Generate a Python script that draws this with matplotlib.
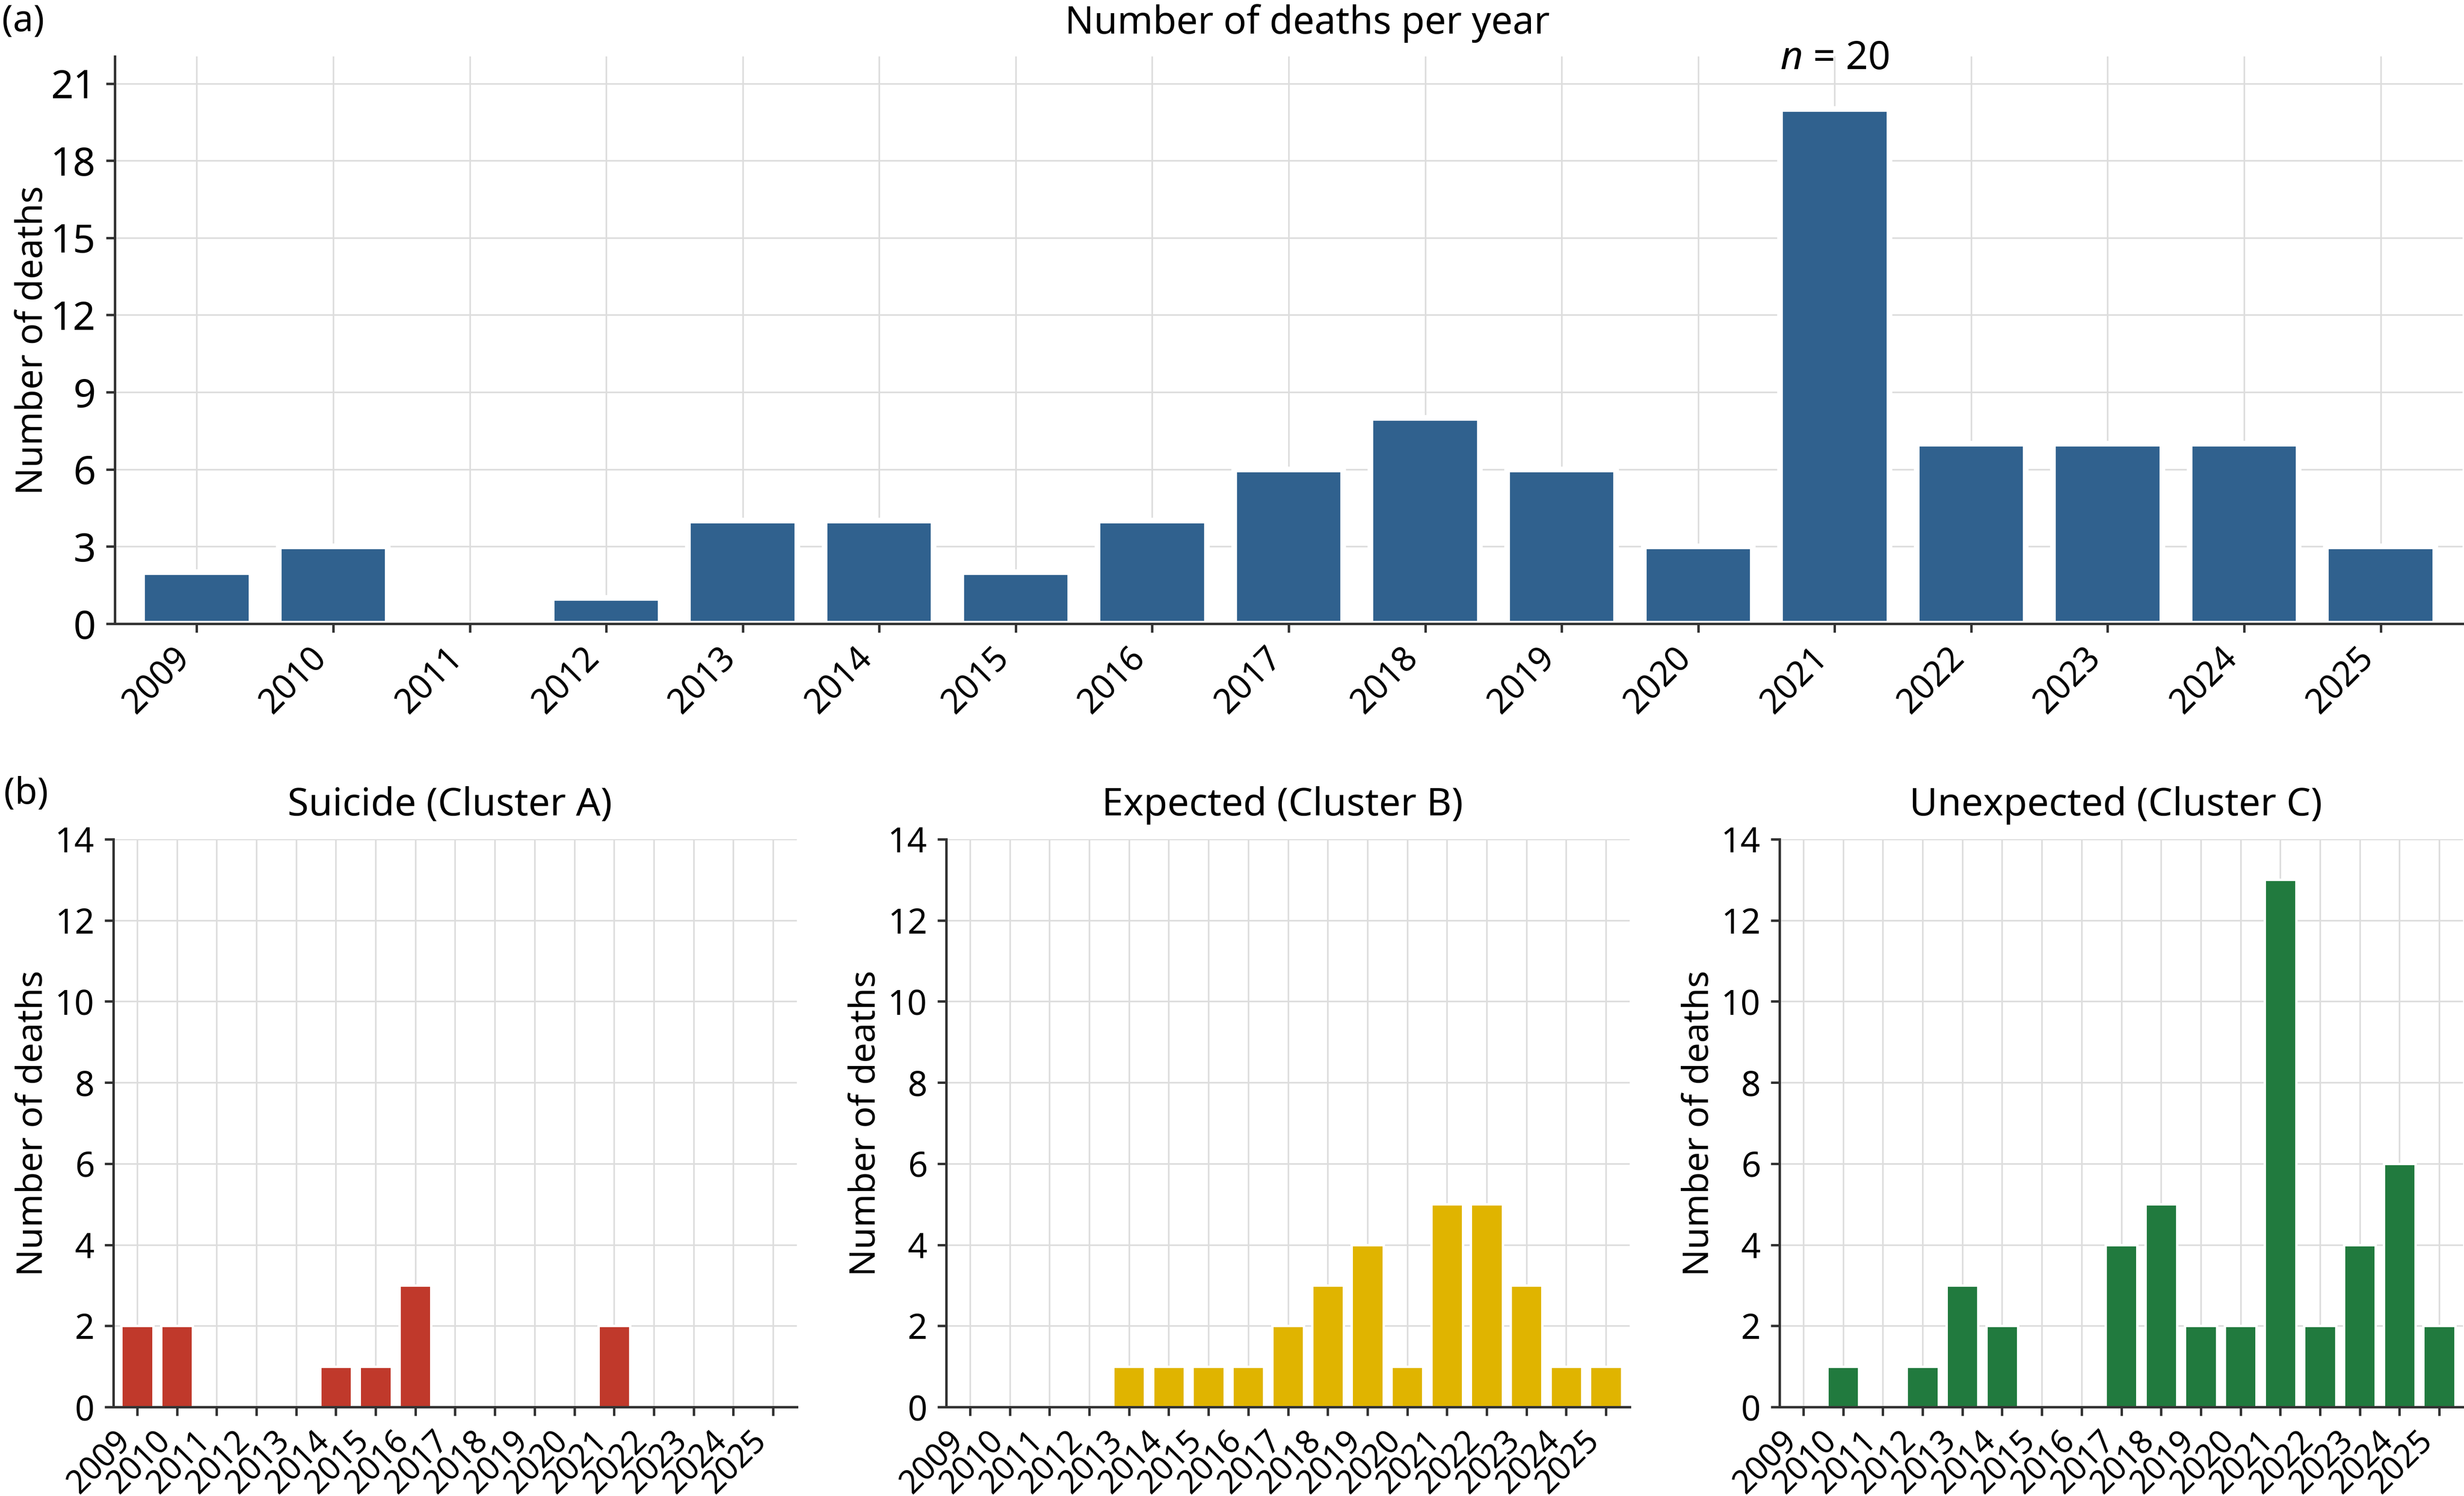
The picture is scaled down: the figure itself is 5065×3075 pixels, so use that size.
import matplotlib
matplotlib.use('Agg')
import matplotlib.pyplot as plt
import numpy as np

plt.rcParams['font.family'] = ['Noto Sans', 'DejaVu Sans']
plt.rcParams['mathtext.fontset'] = 'custom'
plt.rcParams['mathtext.it'] = 'Noto Sans:italic'
plt.rcParams['mathtext.rm'] = 'Noto Sans'

# ---------------- data ----------------
years = ['2009', '2010', '2011', '2012', '2013', '2014', '2015', '2016', '2017',
         '2018', '2019', '2020', '2021', '2022', '2023', '2024', '2025']
total_deaths = [2, 3, 0, 1, 4, 4, 2, 4, 6, 8, 6, 3, 20, 7, 7, 7, 3]
suicide_a = [2, 2, 0, 0, 0, 1, 1, 3, 0, 0, 0, 0, 2, 0, 0, 0, 0]
expected_b = [0, 0, 0, 0, 1, 1, 1, 1, 2, 3, 4, 1, 5, 5, 3, 1, 1]
unexpected_c = [0, 1, 0, 1, 3, 2, 0, 0, 4, 5, 2, 2, 13, 2, 4, 6, 2]

top_yticks = [0, 3, 6, 9, 12, 15, 18, 21]
bottom_yticks = [0, 2, 4, 6, 8, 10, 12, 14]

panel_titles = ['Suicide (Cluster A)', 'Expected (Cluster B)', 'Unexpected (Cluster C)']
panel_data = [suicide_a, expected_b, unexpected_c]
panel_colors = ['#C0392B', '#E0B400', '#217A3E']
top_color = '#30618E'
annot_text = r'$n$ = 20'
annot_year = '2021'

W, H = 5065, 3075
fig = plt.figure(figsize=(W / 300, H / 300), dpi=300)
fig.patch.set_facecolor('white')

GRID = '#DDDDDD'
SPINE = '#333333'


def style_axes(ax, xfs, yfs):
    ax.set_axisbelow(True)
    ax.grid(True, color=GRID, linewidth=0.8)
    for s in ['top', 'right']:
        ax.spines[s].set_visible(False)
    for s in ['left', 'bottom']:
        ax.spines[s].set_color(SPINE)
        ax.spines[s].set_linewidth(1.2)
    ax.tick_params(axis='both', direction='out', length=4.3, width=1.2,
                   color=SPINE, labelcolor='black')
    ax.tick_params(axis='x', labelsize=xfs, pad=4)
    ax.tick_params(axis='y', labelsize=yfs, pad=5)


def px_axes(left, right, top, bottom):
    return [left / W, 1 - bottom / H, (right - left) / W, (bottom - top) / H]


# ---------------- top panel ----------------
x = np.arange(len(years))
ax = fig.add_axes(px_axes(236, 5062, 116, 1282))
ax.bar(x, total_deaths, width=0.8, color=top_color, edgecolor='white',
       linewidth=2.8, zorder=2)
ax.set_xlim(-0.6, len(years) - 0.4)
ax.set_ylim(0, 22.05)
ax.set_yticks(top_yticks)
ax.set_xticks(x)
ax.set_xticklabels(years, rotation=45, ha='right')
style_axes(ax, 16.9, 19.5)
ax.set_ylabel('Number of deaths', fontsize=17.8)
ax.yaxis.set_label_coords(-0.035, 0.5)
ax.yaxis.label.set_verticalalignment('center')
ax.set_title('Number of deaths per year', fontsize=18.8, pad=11.3, x=0.508)
ia = years.index(annot_year)
ax.annotate(annot_text, xy=(x[ia], total_deaths[ia]), xytext=(0, 19.7),
            textcoords='offset points', ha='center', va='baseline',
            fontsize=19.3, annotation_clip=False)

fig.text(4 / W, 1 - 7 / H, '(a)', ha='left', va='top', fontsize=18)
fig.text(8 / W, 1 - 1595 / H, '(b)', ha='left', va='top', fontsize=18)

# ---------------- bottom panels ----------------
lefts = [233, 1945, 3658]
for left, title, data, color in zip(lefts, panel_titles, panel_data, panel_colors):
    axb = fig.add_axes(px_axes(left, left + 1405, 1725, 2892))
    axb.bar(x, data, width=0.8, color=color, edgecolor='white',
            linewidth=1.2, zorder=2)
    axb.set_xlim(-0.6, len(years) - 0.4)
    axb.set_ylim(0, 14)
    axb.set_yticks(bottom_yticks)
    axb.set_xticks(x)
    axb.set_xticklabels(years, rotation=45, ha='right')
    style_axes(axb, 16, 17)
    axb.set_ylabel('Number of deaths', fontsize=17.6)
    axb.yaxis.set_label_coords(-0.118, 0.5)
    axb.yaxis.label.set_verticalalignment('center')
    axb.set_title(title, fontsize=19, pad=11.8, x=0.492)

fig.savefig('out.png', dpi=300, facecolor='white')
